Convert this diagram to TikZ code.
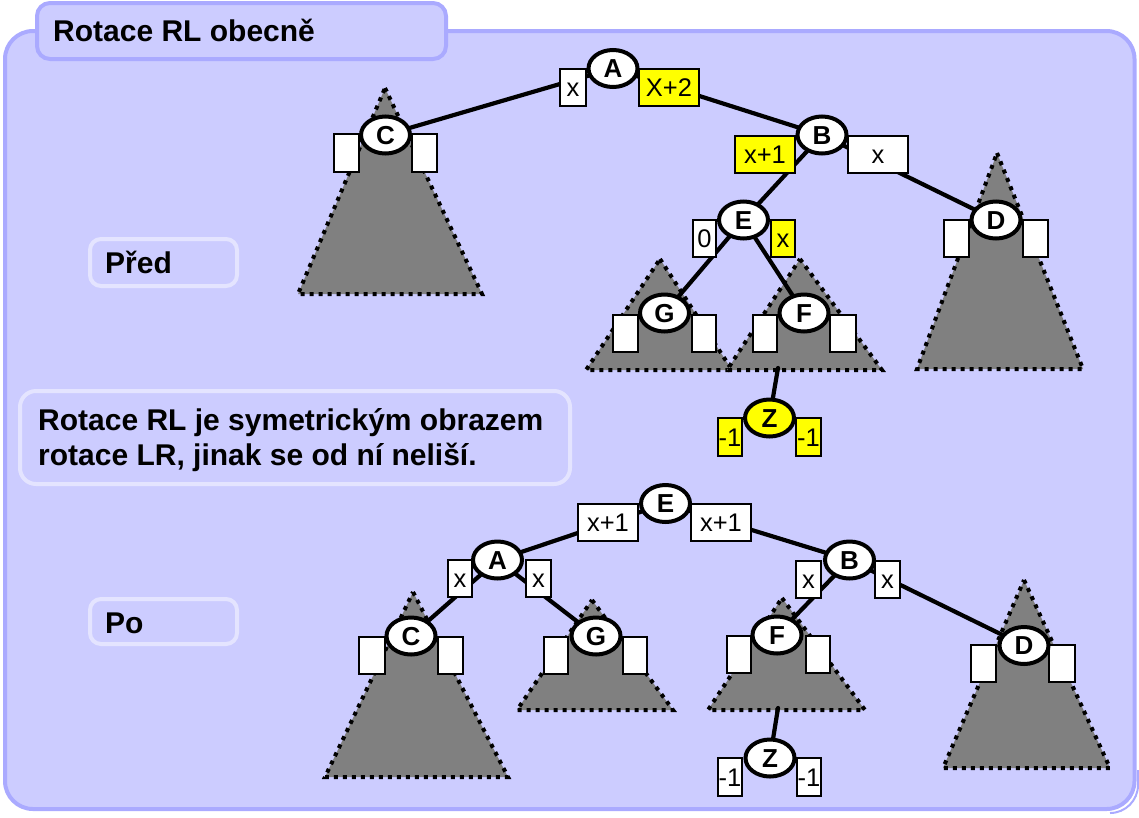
\documentclass[tikz,border=0pt]{standalone}
\usepackage{fontspec}
\setmainfont{Liberation Sans}
\usetikzlibrary{shapes.geometric}
\definecolor{panelfill}{HTML}{CCCCFF}
\definecolor{panelline}{HTML}{AAAAFF}
\definecolor{boxline}{HTML}{E4E4FF}
\definecolor{treegray}{HTML}{808080}
\definecolor{hiyellow}{HTML}{FFFF00}
\pgfdeclarelayer{back}
\pgfdeclarelayer{edges}
\pgfsetlayers{back,edges,main}
\newcommand\bigfont{\fontsize{30}{35}\selectfont\bfseries}
\begin{document}
\begin{tikzpicture}[x=1pt,y=-1pt,
  treenode/.style={ellipse, draw=black, line width=4pt, fill=white,
    minimum width=49pt, minimum height=37pt, inner sep=0pt,
    font=\fontsize{26}{26}\selectfont\bfseries, text height=18.5pt, text depth=0pt},
  valbox/.style={rectangle, draw=black, line width=2pt, fill=white, inner sep=0pt,
    minimum height=37pt, font=\fontsize{25.5}{25.5}\selectfont,
    text height=18pt, text depth=0pt},
  hi/.style={fill=hiyellow},
  treeedge/.style={line width=4.2pt, line cap=round},
  subtree/.style={fill=treegray, draw=black, line width=4pt, line cap=butt,
    dash pattern=on 4pt off 5pt},
  labelframe/.style={draw=boxline, fill=panelfill, line width=4pt, rounded corners=11pt},
  bigtext/.style={anchor=base west, inner sep=0pt, font=\bigfont}
]
\useasboundingbox (0,0) rectangle (1139,817);

% ---------- background panel ----------
\begin{pgfonlayer}{back}
\draw[panelline, line width=2pt, rounded corners=28pt] (1110,813) -- (1138,813) -- (1138,770);
\draw[panelline, fill=panelfill, line width=4pt, rounded corners=28pt] (5,31) rectangle (1134.5,809);
\draw[panelline, fill=panelfill, line width=4pt, rounded corners=13pt] (37,3) rectangle (446,59);
\draw[labelframe] (90,239) rectangle (237,286);
\draw[labelframe] (90,599) rectangle (237,644);
\draw[labelframe, rounded corners=16pt] (20,391) rectangle (570,484);

% subtrees before
\path[subtree] (385,88) -- (482,294) -- (298,294) -- cycle;
\path[subtree] (660,259) -- (732,370) -- (586,370) -- cycle;
\path[subtree] (800,259) -- (882,370) -- (727,370) -- cycle;
\path[subtree] (997,153) -- (1083,369) -- (917,369) -- cycle;
% subtrees after
\path[subtree] (413,592) -- (508,777) -- (325,777) -- cycle;
\path[subtree] (592,600) -- (673,710) -- (517,710) -- cycle;
\path[subtree] (782,598) -- (865,710) -- (708,710) -- cycle;
\path[subtree] (1024,580) -- (1110,768) -- (943,768) -- cycle;
\end{pgfonlayer}

% ---------- texts ----------
\node[bigtext] (title) at (53,41.7) {Rotace RL obecně};
\node[bigtext] (pred) at (105,273) {Před};
\node[bigtext] (po) at (105,633) {Po};
\node[bigtext] (note1) at (38,430) {Rotace RL je symetrickým obrazem};
\node[bigtext] (note2) at (38,465) {rotace LR, jinak se od ní neliší.};

% ---------- tree before ----------
\node[valbox, minimum width=26pt] (A1l) at (573,87.5) {x};
\node[valbox, hi, minimum width=60pt] (A1r) at (669,87.5) {X+2};
\node[valbox, hi, minimum width=60pt] (B1l) at (765,154) {x+1};
\node[valbox, minimum width=60pt] (B1r) at (878,154) {x};
\node[valbox, minimum width=23pt] (E1l) at (704.5,238) {0};
\node[valbox, hi, minimum width=24pt] (E1r) at (783,238) {x};
\node[valbox, minimum width=25pt, minimum height=38pt] (C1l) at (346.5,153) {};
\node[valbox, minimum width=25pt, minimum height=38pt] (C1r) at (424.5,153) {};
\node[valbox, minimum width=25pt] (D1l) at (956.5,238.5) {};
\node[valbox, minimum width=25pt] (D1r) at (1035.5,238.5) {};
\node[valbox, minimum width=25pt] (G1l) at (625.5,333) {};
\node[valbox, minimum width=24pt] (G1r) at (704,333) {};
\node[valbox, minimum width=24pt] (F1l) at (765,333) {};
\node[valbox, minimum width=26pt] (F1r) at (843,333) {};
\node[valbox, hi, minimum width=24pt, minimum height=38pt] (Z1l) at (730,437) {-1};
\node[valbox, hi, minimum width=25pt, minimum height=38pt] (Z1r) at (808.5,437) {-1};

\node[treenode] (A1) at (613,68.5) {A};
\node[treenode] (B1) at (822,135) {B};
\node[treenode] (C1) at (385.5,135) {C};
\node[treenode] (D1) at (996,220) {D};
\node[treenode] (E1) at (743.5,220) {E};
\node[treenode] (G1) at (664.5,313) {G};
\node[treenode] (F1) at (804,313) {F};
\node[treenode, hi] (Z1) at (769.5,418) {Z};
\coordinate (F1b) at (778,368);

% ---------- tree after ----------
\node[valbox, minimum width=60pt] (E2l) at (608,522.5) {x+1};
\node[valbox, minimum width=60pt] (E2r) at (721,522.5) {x+1};
\node[valbox, minimum width=24pt] (A2l) at (460,578.5) {x};
\node[valbox, minimum width=25pt] (A2r) at (538.5,578.5) {x};
\node[valbox, minimum width=25pt] (B2l) at (808.5,579) {x};
\node[valbox, minimum width=25pt] (B2r) at (887.5,579) {x};
\node[valbox, minimum width=26pt] (C2l) at (372,655) {};
\node[valbox, minimum width=25pt] (C2r) at (450.5,655) {};
\node[valbox, minimum width=24pt] (G2l) at (556,655) {};
\node[valbox, minimum width=24pt] (G2r) at (635,655) {};
\node[valbox, minimum width=24pt] (F2l) at (739,654) {};
\node[valbox, minimum width=24pt] (F2r) at (818,654) {};
\node[valbox, minimum width=25pt] (D2l) at (983.5,663.5) {};
\node[valbox, minimum width=26pt] (D2r) at (1062,663.5) {};
\node[valbox, minimum width=24pt, minimum height=38pt] (Z2l) at (730,777) {-1};
\node[valbox, minimum width=24pt, minimum height=38pt] (Z2r) at (809,777) {-1};

\node[treenode] (E2) at (665.5,503.5) {E};
\node[treenode] (A2) at (497.5,560) {A};
\node[treenode] (B2) at (849.5,560) {B};
\node[treenode] (C2) at (411,636) {C};
\node[treenode] (G2) at (596,636) {G};
\node[treenode] (F2) at (777,635) {F};
\node[treenode] (D2) at (1024,645.5) {D};
\node[treenode] (Z2) at (770,758) {Z};
\coordinate (F2b) at (778,708);

% ---------- edges ----------
\begin{pgfonlayer}{edges}
\draw[treeedge] (A1.center) -- (C1.center);
\draw[treeedge] (A1.center) -- (B1.center);
\draw[treeedge] (B1.center) -- (E1.center);
\draw[treeedge] (B1.center) -- (D1.center);
\draw[treeedge] (E1.center) -- (G1.center);
\draw[treeedge] (E1.center) -- (F1.center);
\draw[treeedge] (F1b) -- (Z1.center);
\draw[treeedge] (E2.center) -- (A2.center);
\draw[treeedge] (E2.center) -- (B2.center);
\draw[treeedge] (A2.center) -- (C2.center);
\draw[treeedge] (A2.center) -- (G2.center);
\draw[treeedge] (B2.center) -- (F2.center);
\draw[treeedge] (B2.center) -- (D2.center);
\draw[treeedge] (F2b) -- (Z2.center);
\end{pgfonlayer}
\end{tikzpicture}
\end{document}
